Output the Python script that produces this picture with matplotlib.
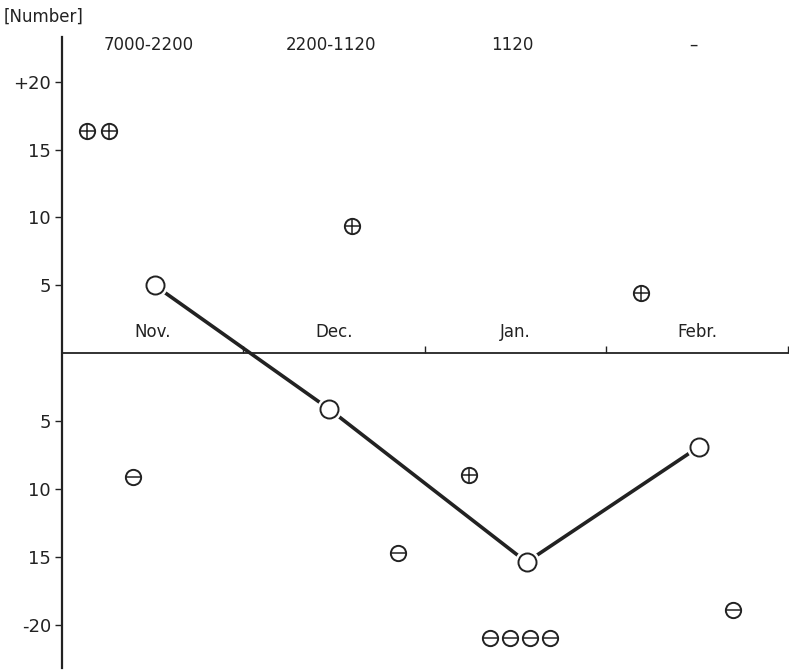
import matplotlib
matplotlib.use("Agg")
import matplotlib.pyplot as plt

# months along the zero line
months = ["Nov.", "Dec.", "Jan.", "Febr."]
ranges = ["7000-2200", "2200-1120", "1120", "–"]

# single observations above (+) and below (-) the line
plus_x = [0.14, 0.26, 1.60, 2.24, 3.19]
plus_y = [16.4, 16.4, 9.4, -9.0, 4.4]
minus_x = [0.39, 1.85, 2.36, 2.47, 2.58, 2.69, 3.70]
minus_y = [-9.1, -14.7, -21.0, -21.0, -21.0, -21.0, -18.9]

# mean per month
mean_x = [0.51, 1.47, 2.56, 3.51]
mean_y = [5.0, -4.1, -15.4, -6.9]

yticks = [20, 15, 10, 5, -5, -10, -15, -20]
ytick_labels = ["+20", "15", "10", "5", "5", "10", "15", "-20"]

plt.rcParams['font.family'] = ['DejaVu Sans']
fs = 13
ink = "#222222"

fig = plt.figure(figsize=(7.89, 6.72), dpi=100)
ax = fig.add_axes([0.0786, 0.006, 0.920, 0.939])
ax.set_xlim(0, 4)
ax.set_ylim(-23.2, 23.3)

for s in ["top", "right"]:
    ax.spines[s].set_visible(False)
ax.spines["left"].set_linewidth(1.6)
ax.spines["left"].set_color(ink)
ax.spines["bottom"].set_position(("data", 0))
ax.spines["bottom"].set_linewidth(1.3)
ax.spines["bottom"].set_color(ink)

ax.set_xticks([1, 2, 3, 4])
ax.set_xticklabels([])
ax.tick_params(axis="x", direction="in", length=5, width=1, color=ink)
ax.set_yticks(yticks)
ax.set_yticklabels(ytick_labels, fontsize=fs, color=ink)
ax.tick_params(axis="y", direction="out", length=5, width=1, color=ink, pad=3)

for i, m in enumerate(months):
    ax.text(i + 0.5, 0.9, m, ha="center", va="bottom", fontsize=fs - 1, color=ink)

for i, r in enumerate(ranges):
    ax.text(i + 0.48, 22.7, r, ha="center", va="center", fontsize=fs - 1, color=ink)

fig.text(0.005, 0.975, "[Number]", ha="left", va="center", fontsize=fs - 1, color=ink)

# mean line with small gaps at the circles
ax.plot(mean_x, mean_y, color=ink, lw=2.6, zorder=3)
ax.plot(mean_x, mean_y, "o", ms=17, mfc="white", mec="white", zorder=4)
ax.plot(mean_x, mean_y, "o", ms=13, mfc="white", mec=ink, mew=1.4, zorder=5)

# plus and minus circles
ax.plot(plus_x, plus_y, "o", ms=11, mfc="white", mec=ink, mew=1.4, zorder=5)
ax.plot(plus_x, plus_y, "+", ms=11, mec=ink, mew=1.1, zorder=6)
ax.plot(minus_x, minus_y, "o", ms=11, mfc="white", mec=ink, mew=1.4, zorder=5)
ax.plot(minus_x, minus_y, "_", ms=11, mec=ink, mew=1.1, zorder=6)

plt.savefig("out.png", dpi=100)
